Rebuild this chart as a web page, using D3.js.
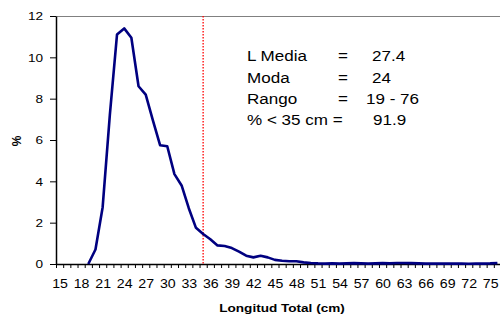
<!DOCTYPE html>
<html>
<head>
<meta charset="utf-8">
<script src="https://cdn.jsdelivr.net/npm/d3@7"></script>
<style>
  body { margin: 0; background: #fff; }
  text { font-family: Arial, "Liberation Sans", sans-serif; fill: #000; }
</style>
</head>
<body>
<div id="chart"></div>
<script>
// length classes (cm), 15..76
const categories = [15, 16, 17, 18, 19, 20, 21, 22, 23, 24, 25, 26, 27, 28, 29, 30,
  31, 32, 33, 34, 35, 36, 37, 38, 39, 40, 41, 42, 43, 44, 45, 46, 47, 48, 49, 50,
  51, 52, 53, 54, 55, 56, 57, 58, 59, 60, 61, 62, 63, 64, 65, 66, 67, 68, 69, 70,
  71, 72, 73, 74, 75, 76];
// frequency (%) per class, null = no data
const percent = [null, null, null, null, 0, 0.7, 2.75, 7.2, 11.1, 11.4, 10.95, 8.6,
  8.2, 6.95, 5.75, 5.7, 4.35, 3.8, 2.7, 1.75, 1.45, 1.2, 0.9, 0.87, 0.77, 0.6, 0.4,
  0.32, 0.4, 0.32, 0.2, 0.16, 0.13, 0.13, 0.08, 0.05, 0.03, 0.02, 0.03, 0.02, 0.03,
  0.04, 0.03, 0.02, 0.03, 0.04, 0.03, 0.05, 0.05, 0.04, 0.03, 0.02, 0.02, 0.02, 0.02,
  0.02, 0.02, 0.01, 0.02, 0.02, 0.03, 0.05];
const xTickLabels = [15, 18, 21, 24, 27, 30, 33, 36, 39, 42, 45, 48, 51, 54, 57, 60, 63, 66, 69, 72, 75];
const yTicks = [0, 2, 4, 6, 8, 10, 12];
const cutoff = 35;
const statLabels = ["L Media", "Moda", "Rango"];
const statValues = ["27.4", "24", "19 - 76"];
const lastLabel = "% < 35 cm =";
const lastValue = "91.9";

const width = 500, height = 316;
const plotLeft = 56, plotRight = 501, plotTop = 16, plotBottom = 264;
const stretch = "scale(1.18,1)";

const svg = d3.select("#chart").append("svg")
  .attr("width", width)
  .attr("height", height);

const x = d3.scaleLinear()
  .domain([categories[0] - 0.5, categories[categories.length - 1] + 0.5])
  .range([plotLeft, plotRight]);
const y = d3.scaleLinear().domain([0, 12]).range([plotBottom, plotTop]);

// plot border (top)
svg.append("line")
  .attr("x1", plotLeft).attr("x2", plotRight)
  .attr("y1", plotTop + 0.5).attr("y2", plotTop + 0.5)
  .attr("stroke", "#808080");

// minor tick marks between classes
const xMinor = svg.append("g")
  .attr("transform", `translate(0,${plotBottom})`)
  .call(d3.axisBottom(x)
    .tickValues(categories.map(c => c - 0.5).concat([categories[categories.length - 1] + 0.5]))
    .tickSize(4).tickFormat(""));
xMinor.select(".domain").remove();
xMinor.selectAll("line").attr("stroke", "#000");

// labels every 3 classes
const xAxis = svg.append("g")
  .attr("transform", `translate(0,${plotBottom})`)
  .call(d3.axisBottom(x).tickValues(xTickLabels).tickSize(0).tickFormat(d3.format("d")));
xAxis.select(".domain").attr("stroke", "#000").attr("stroke-width", 1.5);
xAxis.selectAll("text")
  .attr("y", 24).attr("dy", 0)
  .attr("transform", stretch)
  .style("font-size", "12px")
  .style("font-family", "Arial, 'Liberation Sans', sans-serif");

const yAxis = svg.append("g")
  .attr("transform", `translate(${plotLeft},0)`)
  .call(d3.axisLeft(y).tickValues(yTicks).tickSize(6).tickPadding(5).tickSizeOuter(0));
yAxis.select(".domain").attr("stroke", "#000").attr("stroke-width", 1.5);
yAxis.selectAll("line").attr("stroke", "#000");
yAxis.selectAll("text")
  .attr("transform", stretch)
  .style("font-size", "11.5px")
  .style("font-family", "Arial, 'Liberation Sans', sans-serif");

// cutoff line at 35 cm
svg.append("line")
  .attr("x1", x(cutoff)).attr("x2", x(cutoff))
  .attr("y1", plotTop).attr("y2", plotBottom)
  .attr("stroke", "#ff0000")
  .attr("stroke-width", 1.3)
  .attr("stroke-dasharray", "1.5,1.5");

// frequency line
const line = d3.line()
  .defined(d => d[1] !== null)
  .x(d => x(d[0]))
  .y(d => y(d[1]));

svg.append("path")
  .datum(categories.map((c, i) => [c, percent[i]]))
  .attr("fill", "none")
  .attr("stroke", "#000080")
  .attr("stroke-width", 2.6)
  .attr("stroke-linejoin", "round")
  .attr("d", line);

// summary stats
const rowY = [61, 82.5, 104];
statLabels.forEach((lab, i) => {
  svg.append("text").attr("transform", `translate(247,${rowY[i]}) scale(1.1,1)`)
    .style("font-size", "15.5px").text(lab);
  svg.append("text").attr("transform", `translate(338,${rowY[i]}) scale(1.1,1)`)
    .style("font-size", "15.5px").text("=");
  svg.append("text").attr("transform", `translate(${i === 2 ? 366 : 372},${rowY[i]}) scale(1.1,1)`)
    .style("font-size", "15.5px").text(statValues[i]);
});
svg.append("text").attr("transform", "translate(247,125) scale(1.1,1)")
  .style("font-size", "15.5px").text(lastLabel);
svg.append("text").attr("transform", "translate(373,125) scale(1.1,1)")
  .style("font-size", "15.5px").text(lastValue);

// axis titles
svg.append("text")
  .attr("transform", `translate(282,312) ${stretch}`)
  .attr("text-anchor", "middle")
  .style("font-size", "11.5px")
  .style("font-weight", "bold")
  .text("Longitud Total (cm)");

svg.append("text")
  .attr("transform", "translate(21,141) rotate(-90)")
  .attr("text-anchor", "middle")
  .style("font-size", "12px")
  .style("font-weight", "bold")
  .text("%");
</script>
</body>
</html>
